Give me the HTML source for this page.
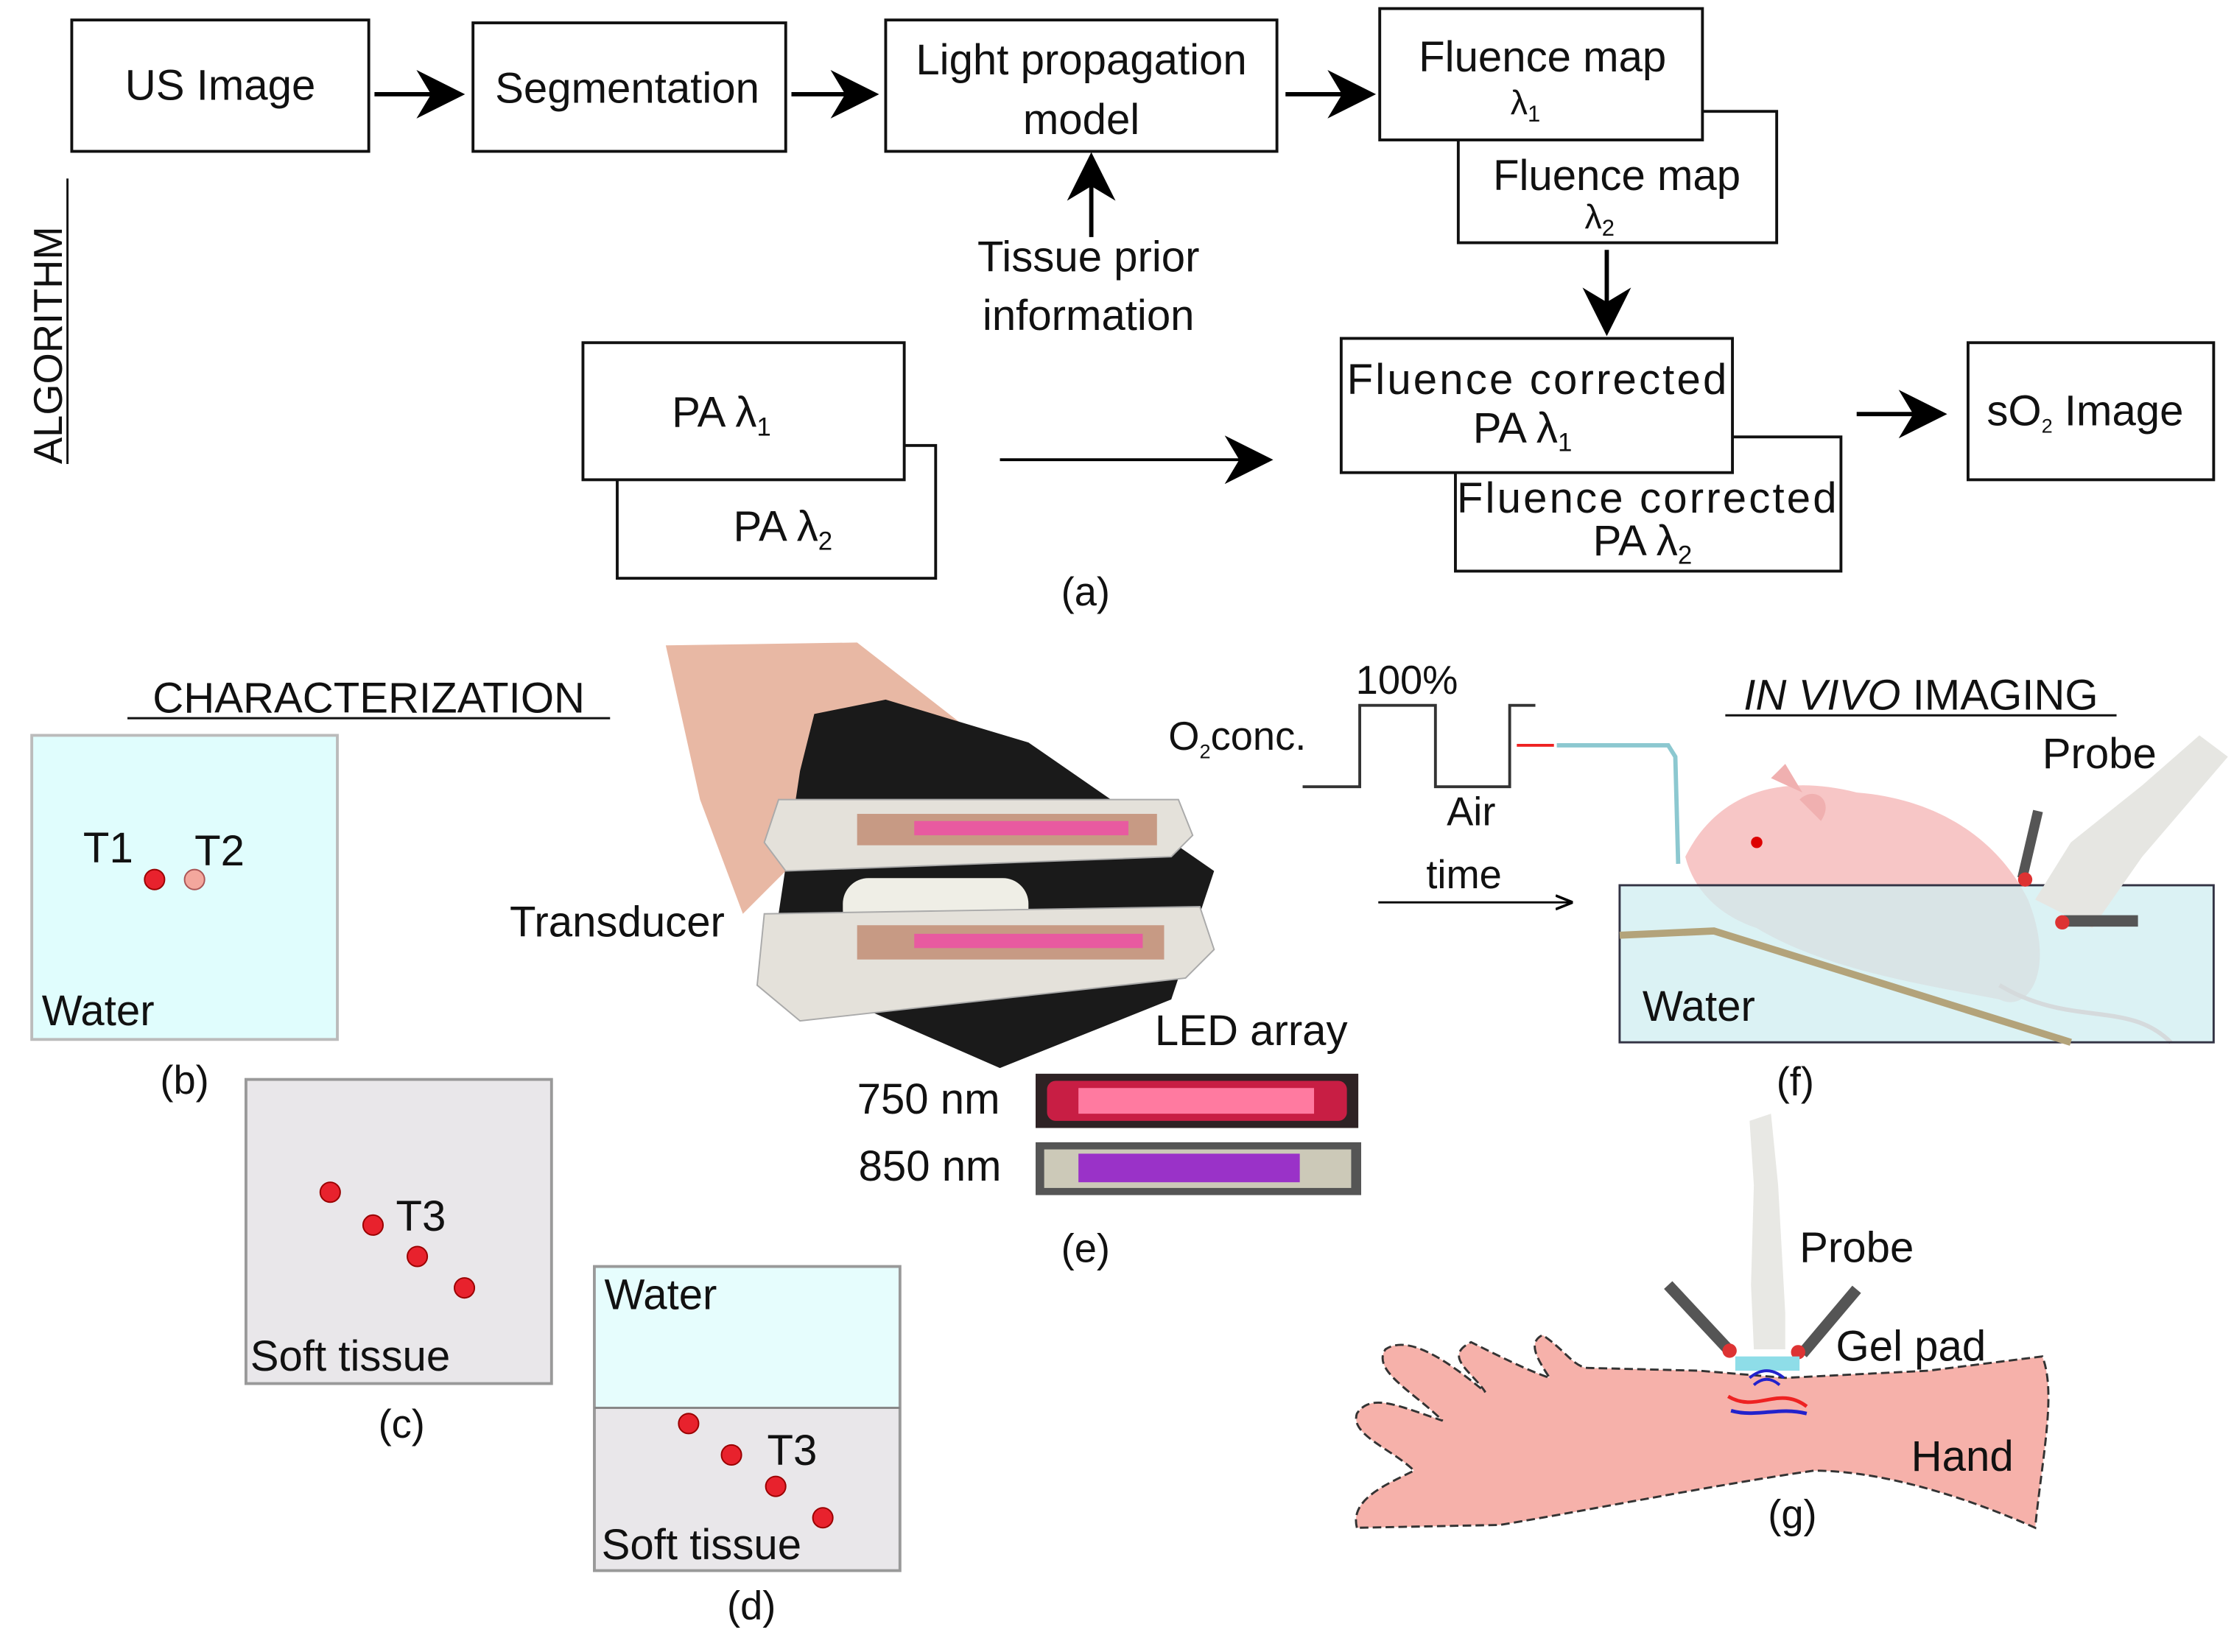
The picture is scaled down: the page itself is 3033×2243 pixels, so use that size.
<!DOCTYPE html>
<html><head><meta charset="utf-8"><style>
html,body{margin:0;padding:0;background:#fff;}
svg{display:block;}
text{font-family:"Liberation Sans",sans-serif;fill:#111;}
</style></head><body>
<svg width="3033" height="2243" viewBox="0 0 1564 1157" xmlns="http://www.w3.org/2000/svg">
<defs>
<marker id="ah" viewBox="0 0 10 10" refX="9" refY="5" markerWidth="34" markerHeight="34" markerUnits="userSpaceOnUse" orient="auto"><path d="M0,0 L10,5 L0,10 L3,5 Z" fill="#000"/></marker>
<marker id="ah2" viewBox="0 0 10 10" refX="9" refY="5" markerWidth="40" markerHeight="34" markerUnits="userSpaceOnUse" orient="auto"><path d="M0,0 L10,5 L0,10 L3,5 Z" fill="#000"/></marker>
<marker id="ahs" viewBox="0 0 10 10" refX="9" refY="5" markerWidth="8" markerHeight="8" orient="auto"><path d="M0,1 L10,5 L0,9" fill="none" stroke="#000" stroke-width="1.5"/></marker>
</defs>
<g stroke="#111" stroke-width="2" fill="#fff">
<rect x="50" y="14" width="208" height="92"/>
<rect x="331" y="16" width="219" height="90"/>
<rect x="620" y="14" width="274" height="92"/>
<rect x="1021" y="78" width="223" height="92"/>
<rect x="966" y="6" width="226" height="92"/>
<rect x="432" y="312" width="223" height="93"/>
<rect x="408" y="240" width="225" height="96"/>
<rect x="1019" y="306" width="270" height="94"/>
<rect x="939" y="237" width="274" height="94"/>
<rect x="1378" y="240" width="172" height="96"/>
</g>
<g stroke="#000" stroke-width="3" fill="none">
<line x1="262" y1="66" x2="322" y2="66" marker-end="url(#ah)"/>
<line x1="554" y1="66" x2="612" y2="66" marker-end="url(#ah)"/>
<line x1="900" y1="66" x2="960" y2="66" marker-end="url(#ah)"/>
<line x1="764" y1="166" x2="764" y2="110" marker-end="url(#ah)"/>
<line x1="1125" y1="175" x2="1125" y2="232" marker-end="url(#ah)"/>
<line x1="1300" y1="290" x2="1360" y2="290" marker-end="url(#ah)"/>
</g>
<line x1="700" y1="322" x2="888" y2="322" stroke="#000" stroke-width="2" marker-end="url(#ah2)"/>
<g font-size="30" text-anchor="middle">
<text x="154" y="70">US Image</text>
<text x="439" y="72">Segmentation</text>
<text x="757" y="52">Light propagation</text>
<text x="757" y="94">model</text>
<text x="1080" y="50">Fluence map</text>
<text x="1068" y="80" font-size="24">λ<tspan font-size="16" dy="5">1</tspan></text>
<text x="1132" y="133">Fluence map</text>
<text x="1120" y="160" font-size="24">λ<tspan font-size="16" dy="5">2</tspan></text>
<text x="762" y="190">Tissue prior</text>
<text x="762" y="231">information</text>
<text x="505" y="299">PA λ<tspan font-size="18" dy="6">1</tspan></text>
<text x="548" y="379">PA λ<tspan font-size="18" dy="6">2</tspan></text>
<text x="1076" y="276" textLength="266">Fluence corrected</text>
<text x="1066" y="310">PA λ<tspan font-size="18" dy="6">1</tspan></text>
<text x="1153" y="359" textLength="266">Fluence corrected</text>
<text x="1150" y="389">PA λ<tspan font-size="18" dy="6">2</tspan></text>
<text x="1460" y="298">sO<tspan font-size="14" dy="5">2</tspan><tspan dy="-5"> Image</tspan></text>
<text x="760" y="424" font-size="28">(a)</text>
</g>
<text transform="translate(43,325) rotate(-90)" font-size="28">ALGORITHM</text>
<line x1="47" y1="125" x2="47" y2="325" stroke="#111" stroke-width="1.5"/>
<text x="258" y="499" font-size="30" text-anchor="middle">CHARACTERIZATION</text>
<line x1="89" y1="503" x2="427" y2="503" stroke="#111" stroke-width="1.5"/>
<rect x="22" y="515" width="214" height="213" fill="#e0fdfd" stroke="#bbb" stroke-width="2"/>
<rect x="172" y="756" width="214" height="213" fill="#e9e7ea" stroke="#999" stroke-width="2"/>
<rect x="416" y="887" width="214" height="213" fill="#e9e7ea" stroke="#999" stroke-width="2"/>
<rect x="417" y="888" width="212" height="98" fill="#e6fdfd"/>
<line x1="416" y1="986" x2="630" y2="986" stroke="#888" stroke-width="1.5"/>
<g stroke="#900" stroke-width="1" fill="#e8222d">
<circle cx="108" cy="616" r="7"/>
<circle cx="136" cy="616" r="7" fill="#f3a79d" stroke="#a55"/>
<circle cx="231" cy="835" r="7"/><circle cx="261" cy="858" r="7"/><circle cx="292" cy="880" r="7"/><circle cx="325" cy="902" r="7"/>
<circle cx="482" cy="997" r="7"/><circle cx="512" cy="1019" r="7"/><circle cx="543" cy="1041" r="7"/><circle cx="576" cy="1063" r="7"/>
</g>
<g font-size="30">
<text x="58" y="604">T1</text><text x="136" y="606">T2</text>
<text x="29" y="718">Water</text>
<text x="277" y="862">T3</text>
<text x="175" y="960">Soft tissue</text>
<text x="423" y="917">Water</text>
<text x="537" y="1026">T3</text>
<text x="421" y="1092">Soft tissue</text>
</g>
<g font-size="28" text-anchor="middle">
<text x="129" y="766">(b)</text><text x="281" y="1007">(c)</text><text x="526" y="1134">(d)</text><text x="760" y="884">(e)</text><text x="1257" y="767">(f)</text><text x="1255" y="1070">(g)</text>
</g>
<!-- photo e -->
<path d="M466,452 L600,450 L690,520 L740,560 L600,560 L560,600 L520,640 L490,560 Z" fill="#e8b8a4"/>
<path d="M570,500 L620,490 L720,520 L850,610 L820,700 L700,748 L590,700 L545,640 L560,540 Z" fill="#1a1a1a"/>
<path d="M545,560 L825,560 L835,585 L820,600 L550,610 L535,590 Z" fill="#e4e1da" stroke="#aaa"/>
<rect x="600" y="570" width="210" height="22" fill="#c79a84"/>
<rect x="640" y="575" width="150" height="10" fill="#e85aa0"/>
<rect x="590" y="615" width="130" height="40" rx="18" fill="#efeee6"/>
<path d="M535,640 L840,635 L850,665 L830,685 L560,715 L530,690 Z" fill="#e4e1da" stroke="#aaa"/>
<rect x="600" y="648" width="215" height="24" fill="#c79a84"/>
<rect x="640" y="654" width="160" height="10" fill="#e85aa0"/>
<text x="432" y="656" font-size="30" text-anchor="middle">Transducer</text>
<text x="876" y="732" font-size="30" text-anchor="middle">LED array</text>
<text x="650" y="780" font-size="30" text-anchor="middle">750 nm</text>
<text x="651" y="827" font-size="30" text-anchor="middle">850 nm</text>
<rect x="725" y="752" width="226" height="38" fill="#2e2224"/>
<rect x="733" y="757" width="210" height="28" rx="6" fill="#c81e44"/>
<rect x="755" y="762" width="165" height="18" fill="#ff7aa0"/>
<rect x="725" y="800" width="228" height="37" fill="#555"/>
<rect x="731" y="805" width="215" height="27" fill="#ccc9b8"/>
<rect x="755" y="808" width="155" height="20" fill="#9a32c8"/>
<!-- O2 plot -->
<polyline points="912,551 952,551 952,494 1005,494 1005,551 1057,551 1057,494 1075,494" fill="none" stroke="#333" stroke-width="2"/>
<text x="985" y="486" font-size="28" text-anchor="middle">100%</text>
<text x="818" y="525" font-size="28">O<tspan font-size="14" dy="6">2</tspan><tspan dy="-6">conc.</tspan></text>
<text x="1030" y="578" font-size="28" text-anchor="middle">Air</text>
<text x="1025" y="622" font-size="28" text-anchor="middle">time</text>
<line x1="965" y1="632" x2="1100" y2="632" stroke="#000" stroke-width="1.5" marker-end="url(#ahs)"/>
<line x1="1062" y1="522" x2="1088" y2="522" stroke="#e22" stroke-width="2"/>
<polyline points="1090,522 1168,522 1173,530 1175,605" fill="none" stroke="#8cc8d0" stroke-width="3"/>
<text x="1345" y="497" font-size="30" text-anchor="middle"><tspan font-style="italic">IN VIVO</tspan> IMAGING</text>
<line x1="1208" y1="501" x2="1482" y2="501" stroke="#111" stroke-width="1.5"/>
<text x="1470" y="538" font-size="30" text-anchor="middle">Probe</text>
<path d="M1180,600 C1200,560 1240,540 1300,555 C1360,560 1400,590 1420,630 C1440,680 1420,710 1400,700 C1350,690 1280,680 1230,650 C1200,640 1185,620 1180,600 Z" fill="#f7c6c6"/>
<path d="M1240,545 L1250,535 L1262,555 Z M1260,560 C1270,550 1285,560 1275,575 Z" fill="#f0b0b0"/>
<circle cx="1230" cy="590" r="4" fill="#d00"/>
<path d="M1400,690 C1450,720 1490,700 1520,730" fill="none" stroke="#e6a0a0" stroke-width="3"/>
<rect x="1134" y="620" width="416" height="110" fill="#cfeef0" fill-opacity="0.75" stroke="#334" stroke-width="1.5"/>
<polyline points="1134,655 1200,652 1450,730" fill="none" stroke="#b3a37a" stroke-width="5"/>
<text x="1150" y="715" font-size="30">Water</text>
<path d="M1540,515 L1560,530 L1500,600 L1465,650 L1425,630 L1450,590 L1500,550 Z" fill="#e6e6e2"/>
<line x1="1427" y1="568" x2="1416" y2="615" stroke="#555" stroke-width="7"/>
<line x1="1445" y1="645" x2="1497" y2="645" stroke="#555" stroke-width="8"/>
<circle cx="1418" cy="616" r="5" fill="#d33"/><circle cx="1444" cy="646" r="5" fill="#d33"/>
<!-- hand g -->
<path d="M950,1070 C945,1050 970,1040 990,1030 C975,1015 945,1005 950,990 C960,975 980,985 1010,995 C990,975 960,960 970,945 C985,935 1010,950 1040,975 C1030,960 1010,950 1030,940 C1050,950 1070,960 1085,965 C1075,950 1070,940 1080,935 C1095,945 1100,955 1110,958 L1190,960 L1250,965 L1350,960 L1430,950 C1440,975 1430,1020 1425,1070 C1380,1050 1320,1030 1270,1030 C1200,1040 1100,1060 1050,1068 Z" fill="#f6b1aa" stroke="#333" stroke-width="1.5" stroke-dasharray="6,3"/>
<path d="M1225,785 L1240,780 L1245,830 L1250,920 L1250,945 L1228,945 L1226,900 L1228,830 Z" fill="#e8e8e4"/>
<line x1="1168" y1="900" x2="1210" y2="945" stroke="#555" stroke-width="8"/>
<line x1="1300" y1="903" x2="1262" y2="948" stroke="#555" stroke-width="8"/>
<circle cx="1211" cy="946" r="5" fill="#d33"/><circle cx="1259" cy="947" r="5" fill="#d33"/>
<rect x="1215" y="950" width="45" height="10" fill="#8edde8"/>
<path d="M1210,978 C1230,990 1245,970 1265,985" fill="none" stroke="#e22" stroke-width="2.5"/>
<path d="M1212,988 C1230,993 1245,985 1265,990" fill="none" stroke="#22c" stroke-width="2.5"/>
<path d="M1225,965 Q1237,955 1249,965 M1228,970 Q1237,962 1246,970" fill="none" stroke="#22c" stroke-width="2"/>
<text x="1300" y="884" font-size="30" text-anchor="middle">Probe</text>
<text x="1338" y="953" font-size="30" text-anchor="middle">Gel pad</text>
<text x="1374" y="1030" font-size="30" text-anchor="middle">Hand</text>
</svg>
</body></html>
